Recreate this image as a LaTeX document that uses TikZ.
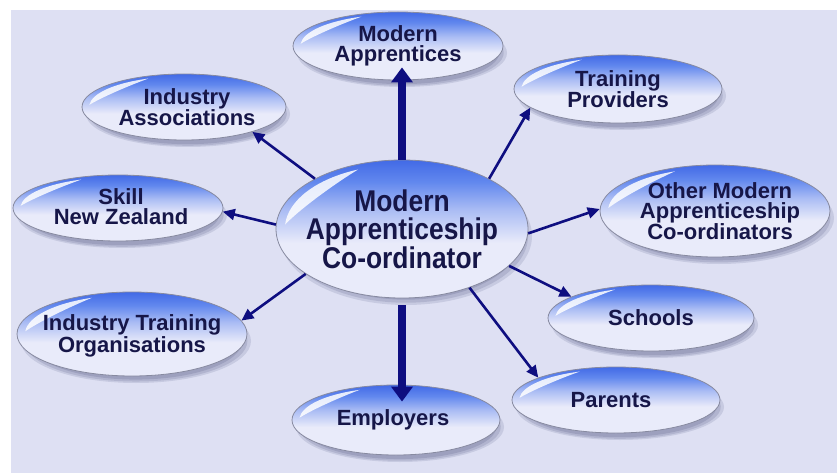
\documentclass[tikz,border=0pt]{standalone}
\usepackage{fontspec}
\setmainfont{Liberation Sans}
\newfontfamily\hubfont[FakeStretch=0.88]{Liberation Sans}
\usetikzlibrary{shapes.geometric,arrows.meta,shadows}

\definecolor{paper}{RGB}{222,224,243}
\definecolor{ink}{RGB}{22,22,72}
\definecolor{navy}{RGB}{14,14,128}
\definecolor{rim}{RGB}{135,138,160}
\definecolor{shadowc}{RGB}{100,104,145}
\definecolor{bpale}{RGB}{233,235,250}
\definecolor{blight}{RGB}{170,188,244}
\definecolor{bblue}{RGB}{98,136,238}
\definecolor{bdeep}{RGB}{66,106,230}

% glossy blue fill: deep blue at the top fading to pale lavender below the middle
\pgfdeclareverticalshading{bubble}{100bp}{color(0bp)=(bpale); color(25bp)=(bpale); color(45bp)=(bpale); color(57bp)=(blight); color(67bp)=(bblue); color(75bp)=(bdeep); color(100bp)=(bdeep)}

\tikzset{
  bub/.style 2 args={ellipse, draw=rim, line width=0.8pt, inner sep=0pt,
    minimum width=2*#1pt, minimum height=2*#2pt, shade, shading=bubble,
    drop shadow={shadow xshift=4pt, shadow yshift=-7pt, opacity=.18, fill=shadowc},
    drop shadow={shadow xshift=4pt, shadow yshift=-7pt, shadow scale=.97, opacity=.22, fill=shadowc},
    drop shadow={shadow xshift=4pt, shadow yshift=-7pt, shadow scale=.93, opacity=.26, fill=shadowc},
    path picture={
      \fill[white, opacity=.85, shift={(path picture bounding box.center)}, x=#1pt, y=#2pt]
        (176:.93) arc[start angle=176, end angle=112, radius=.93]
        .. controls (128:.85) and (160:.86) .. cycle;}},
  lbl/.style={font=\bfseries\fontsize{22}{20}\selectfont, text=ink, align=center, inner sep=0pt},
  hublbl/.style={font=\hubfont\bfseries\fontsize{30}{28.5}\selectfont, text=ink, align=center, inner sep=0pt},
  link/.style={navy, line width=2.6pt, -{Triangle[length=12pt, width=11pt]}},
  biglink/.style={navy, line width=7.5pt, -{Triangle[length=15pt, width=21pt]}}
}

\begin{document}
\begin{tikzpicture}[x=1pt, y=-1pt]
  \useasboundingbox (0,0) rectangle (837,473);
  \fill[white] (0,0) rectangle (837,473);
  \fill[paper] (11,10) rectangle (837,473);

  % ellipses
  \node[bub={105}{34}] (ma)  at (398,46)  {};
  \node[bub={104}{34}] (tp)  at (618,89)  {};
  \node[bub={102}{33}] (ia)  at (184,107) {};
  \node[bub={105}{33}] (snz) at (118,208) {};
  \node[bub={115}{42}] (ito) at (132,334) {};
  \node[bub={115}{46}] (om)  at (715,211) {};
  \node[bub={103}{33}] (sch) at (651,318) {};
  \node[bub={104}{33}] (par) at (616,400) {};
  \node[bub={104}{35}] (emp) at (396,420) {};
  \node[bub={126}{69}] (c)   at (402,229) {};

  % labels
  \node[hublbl] (c-t)   at (c)   {Modern\\Apprenticeship\\Co-ordinator};
  \node[lbl]    (ma-t)  at (ma)  {Modern\\Apprentices};
  \node[lbl]    (tp-t)  at (tp)  {Training\\Providers};
  \node[lbl]    (ia-t)  at ([xshift=3pt]ia) {Industry\\Associations};
  \node[lbl]    (snz-t) at ([xshift=3pt,yshift=1pt]snz) {Skill\\New Zealand};
  \node[lbl]    (ito-t) at ([yshift=-2pt]ito) {Industry Training\\Organisations};
  \node[lbl]    (om-t)  at ([xshift=5pt]om) {Other Modern\\Apprenticeship\\Co-ordinators};
  \node[lbl]    (sch-t) at (sch) {Schools};
  \node[lbl]    (par-t) at ([xshift=-5pt]par) {Parents};
  \node[lbl]    (emp-t) at ([xshift=-3pt]emp) {Employers};

  % connectors
  \draw[biglink, shorten >=-13pt] (c.north) -- (c.north |- ma.south);
  \draw[biglink, shorten <=7pt, shorten >=-17pt] (c.south) -- (c.south |- emp.north);
  \draw[link] (c.150) -- (ia.-20);
  \draw[link] (c.178) -- (snz.-2);
  \draw[link] (c.205) -- (ito.7);
  \draw[link] (c.30)  -- (tp.192);
  \draw[link] (c.-2)  -- (om.179);
  \draw[link] (c.-19) -- (sch.165);
  \draw[link] (c.-41) -- (par.164);
\end{tikzpicture}
\end{document}
